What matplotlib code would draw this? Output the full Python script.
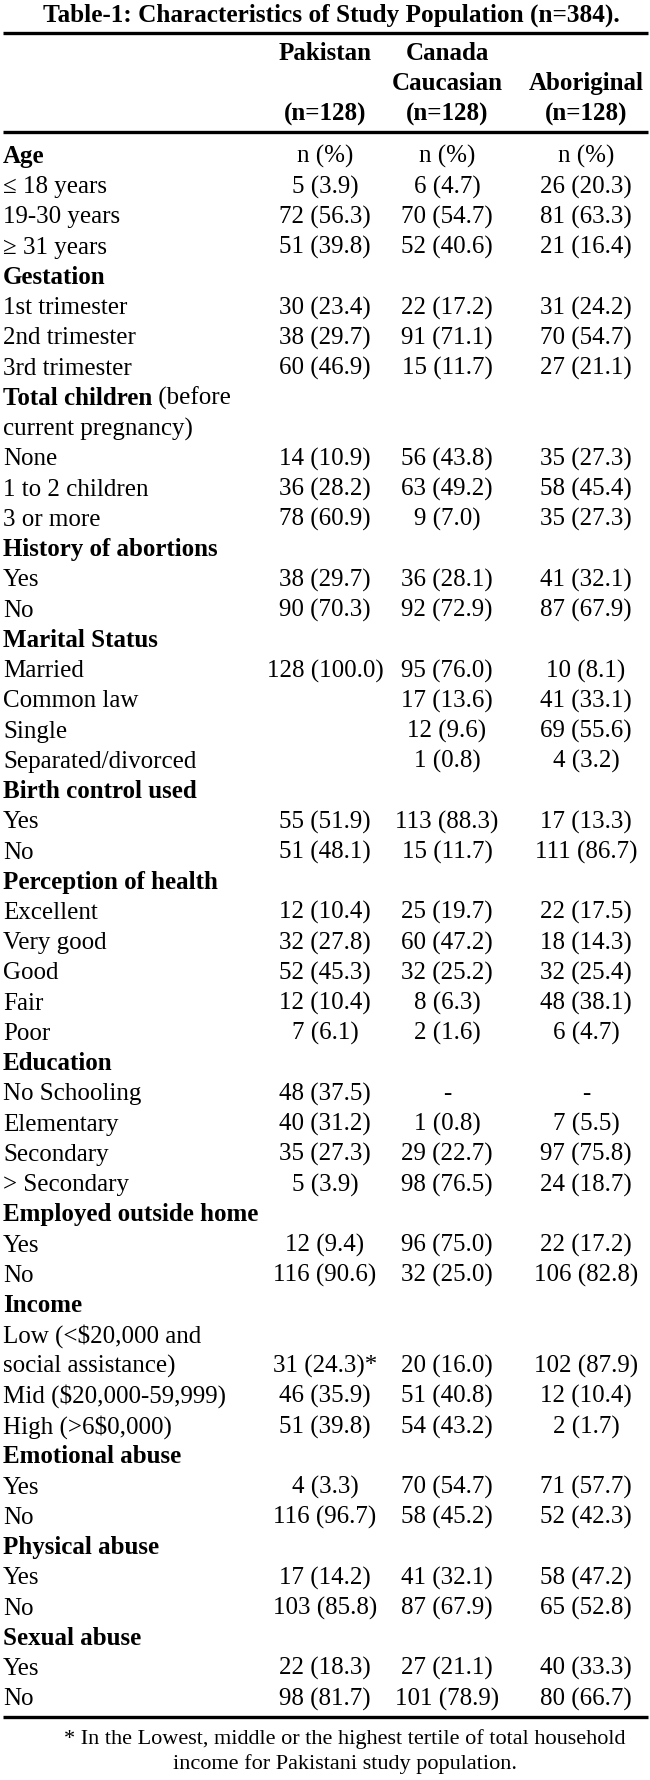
import matplotlib.pyplot as plt

# Table contents
title = 'Table-1: Characteristics of Study Population (n=384).'
col_heads = [['Pakistan', '', '(n=128)'],
             ['Canada', 'Caucasian', '(n=128)'],
             ['', 'Aboriginal', '(n=128)']]

row_labels = ['Age', '≤ 18 years', '19-30 years', '≥ 31 years',
              'Gestation', '1st trimester', '2nd trimester', '3rd trimester',
              'Total children', 'current pregnancy)', 'None', '1 to 2 children', '3 or more',
              'History of abortions', 'Yes', 'No',
              'Marital Status', 'Married', 'Common law', 'Single', 'Separated/divorced',
              'Birth control used', 'Yes', 'No',
              'Perception of health', 'Excellent', 'Very good', 'Good', 'Fair', 'Poor',
              'Education', 'No Schooling', 'Elementary', 'Secondary', '> Secondary',
              'Employed outside home', 'Yes', 'No',
              'Income', 'Low (<$20,000 and', 'social assistance)',
              'Mid ($20,000-59,999)', 'High (>6$0,000)',
              'Emotional abuse', 'Yes', 'No',
              'Physical abuse', 'Yes', 'No',
              'Sexual abuse', 'Yes', 'No']

section_rows = [0, 4, 8, 13, 16, 21, 24, 30, 35, 38, 43, 46, 49]

pakistan = ['n (%)', '5 (3.9)', '72 (56.3)', '51 (39.8)',
            '', '30 (23.4)', '38 (29.7)', '60 (46.9)',
            '', '', '14 (10.9)', '36 (28.2)', '78 (60.9)',
            '', '38 (29.7)', '90 (70.3)',
            '', '128 (100.0)', '', '', '',
            '', '55 (51.9)', '51 (48.1)',
            '', '12 (10.4)', '32 (27.8)', '52 (45.3)', '12 (10.4)', '7 (6.1)',
            '', '48 (37.5)', '40 (31.2)', '35 (27.3)', '5 (3.9)',
            '', '12 (9.4)', '116 (90.6)',
            '', '', '31 (24.3)*', '46 (35.9)', '51 (39.8)',
            '', '4 (3.3)', '116 (96.7)',
            '', '17 (14.2)', '103 (85.8)',
            '', '22 (18.3)', '98 (81.7)']

canada = ['n (%)', '6 (4.7)', '70 (54.7)', '52 (40.6)',
          '', '22 (17.2)', '91 (71.1)', '15 (11.7)',
          '', '', '56 (43.8)', '63 (49.2)', '9 (7.0)',
          '', '36 (28.1)', '92 (72.9)',
          '', '95 (76.0)', '17 (13.6)', '12 (9.6)', '1 (0.8)',
          '', '113 (88.3)', '15 (11.7)',
          '', '25 (19.7)', '60 (47.2)', '32 (25.2)', '8 (6.3)', '2 (1.6)',
          '', '-', '1 (0.8)', '29 (22.7)', '98 (76.5)',
          '', '96 (75.0)', '32 (25.0)',
          '', '', '20 (16.0)', '51 (40.8)', '54 (43.2)',
          '', '70 (54.7)', '58 (45.2)',
          '', '41 (32.1)', '87 (67.9)',
          '', '27 (21.1)', '101 (78.9)']

aboriginal = ['n (%)', '26 (20.3)', '81 (63.3)', '21 (16.4)',
              '', '31 (24.2)', '70 (54.7)', '27 (21.1)',
              '', '', '35 (27.3)', '58 (45.4)', '35 (27.3)',
              '', '41 (32.1)', '87 (67.9)',
              '', '10 (8.1)', '41 (33.1)', '69 (55.6)', '4 (3.2)',
              '', '17 (13.3)', '111 (86.7)',
              '', '22 (17.5)', '18 (14.3)', '32 (25.4)', '48 (38.1)', '6 (4.7)',
              '', '-', '7 (5.5)', '97 (75.8)', '24 (18.7)',
              '', '22 (17.2)', '106 (82.8)',
              '', '', '102 (87.9)', '12 (10.4)', '2 (1.7)',
              '', '71 (57.7)', '52 (42.3)',
              '', '58 (47.2)', '65 (52.8)',
              '', '40 (33.3)', '80 (66.7)']

footnote = ['* In the Lowest, middle or the highest tertile of total household',
            'income for Pakistani study population.']

W, H = 650, 1781
fig = plt.figure(figsize=(W / 100, H / 100), dpi=100)
ax = fig.add_axes([0, 0, 1, 1])
ax.set_xlim(0, W)
ax.set_ylim(H, 0)
ax.axis('off')

font = 'Liberation Serif'
fs = 18
col_x = [325, 447, 586]
row0, row_step = 155, 30.24
base = 8  # baseline offset from row centre

ax.text(331, 22, title, family=font, fontsize=18.2, fontweight='bold',
        ha='center', va='baseline')

# rules
for y in [34, 133, 1718]:
    ax.plot([3, 648], [y, y], color='black', lw=2.4, solid_capstyle='butt')

# column headers
for cx, lines in zip(col_x, col_heads):
    for y, s in zip([52, 82, 113], lines):
        if s:
            ax.text(cx, y + base, s, family=font, fontsize=fs, fontweight='bold',
                    ha='center', va='baseline')

# body
for i, lab in enumerate(row_labels):
    y = row0 + i * row_step + base
    bold = i in section_rows
    t = ax.text(3, y, lab, family=font, fontsize=fs,
                fontweight='bold' if bold else 'normal', va='baseline')
    if lab == 'Total children':
        ax.annotate(' (before', xy=(1, 0), xycoords=t, va='bottom',
                    family=font, fontsize=fs)
    for cx, col in zip(col_x, [pakistan, canada, aboriginal]):
        if col[i]:
            ax.text(cx, y, col[i], family=font, fontsize=fs,
                    ha='center', va='baseline')

for y, s in zip([1738, 1763], footnote):
    ax.text(345, y + 6, s, family=font, fontsize=16, ha='center', va='baseline')

fig.savefig('out.png', dpi=100)
